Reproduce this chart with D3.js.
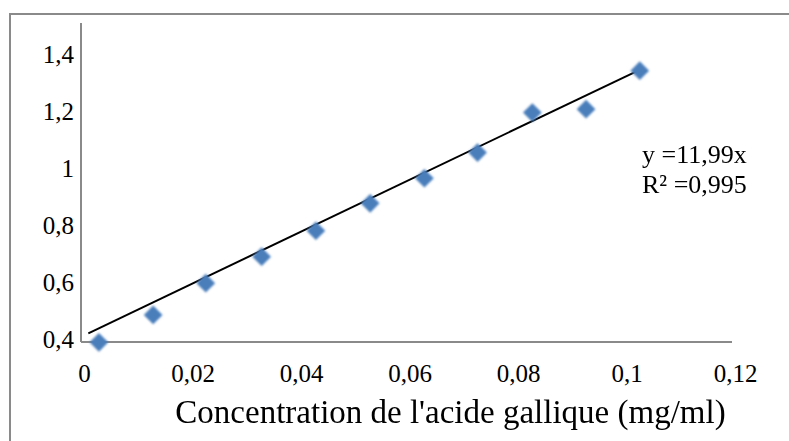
<!DOCTYPE html>
<html>
<head>
<meta charset="utf-8">
<script src="https://cdn.jsdelivr.net/npm/d3@7/dist/d3.min.js"></script>
<style>
  html, body { margin: 0; padding: 0; background: #fff; }
  svg { display: block; }
  text { font-family: "Liberation Serif", "Times New Roman", serif; fill: #000; }
</style>
</head>
<body>
<svg id="chart" width="789" height="441"></svg>
<script>
// ---- data ----
const concentration = [0.0033, 0.0133, 0.0230, 0.0333, 0.0433, 0.0533, 0.0633, 0.0731, 0.0832, 0.0931, 0.1030];
const absorbance    = [0.399, 0.495, 0.606, 0.699, 0.790, 0.886, 0.974, 1.064, 1.204, 1.216, 1.351];
const trendX = [0.00135, 0.1023];
const trendY = [0.4305, 1.348];
const xTicks = [0, 0.02, 0.04, 0.06, 0.08, 0.1, 0.12];
const yTicks = [0.4, 0.6, 0.8, 1.0, 1.2, 1.4];
const xTitle = "Concentration de l'acide gallique (mg/ml)";
const equationLines = ["y =11,99x", "R\u00B2 =0,995"];

const svg = d3.select("#chart");
const fmt = v => String(+v.toFixed(2)).replace(".", ",");

const x = d3.scaleLinear().domain([0, 0.12]).range([81, 732]);
const y = d3.scaleLinear().domain([0.4, 1.4]).range([342, 56.7]);
const yTop = y.invert(23);

// blur filter for markers
const defs = svg.append("defs");
defs.append("filter").attr("id", "soft")
  .attr("x", "-30%").attr("y", "-30%").attr("width", "160%").attr("height", "160%")
  .append("feGaussianBlur").attr("stdDeviation", 0.8);

// outer frame (top & left visible)
svg.append("line").attr("x1", 9).attr("x2", 789).attr("y1", 14).attr("y2", 14)
  .attr("stroke", "#8a8a8a").attr("stroke-width", 2);
svg.append("line").attr("x1", 10).attr("x2", 10).attr("y1", 13).attr("y2", 441)
  .attr("stroke", "#8a8a8a").attr("stroke-width", 2);

// axes
const xAxis = d3.axisBottom(x).tickValues(xTicks).tickSize(0).tickFormat(fmt);
const gx = svg.append("g").attr("transform", `translate(0,${y(0.4)})`).call(xAxis);
gx.select(".domain").attr("stroke", "#8a8a8a").attr("stroke-width", 2).attr("d", `M${x(0)},0H${x(0.12)}`);
gx.selectAll("text").attr("font-size", 25).attr("font-family", "Liberation Serif")
  .attr("fill", "#000").attr("dy", 0).attr("y", 40).attr("x", 3);

const yAxis = d3.axisLeft(y).tickValues(yTicks).tickSize(0).tickFormat(fmt);
const gy = svg.append("g").attr("transform", `translate(${x(0)},0)`).call(yAxis);
gy.select(".domain").attr("stroke", "#8a8a8a").attr("stroke-width", 2)
  .attr("d", `M0,${y(0.4)}V${y(yTop)}`);
gy.selectAll("text").attr("font-size", 25).attr("font-family", "Liberation Serif")
  .attr("fill", "#000").attr("x", -7).attr("dy", "0.22em");

// trendline
svg.append("line")
  .attr("x1", x(trendX[0])).attr("y1", y(trendY[0]))
  .attr("x2", x(trendX[1])).attr("y2", y(trendY[1]))
  .attr("stroke", "#000").attr("stroke-width", 2);

// markers (diamonds)
const diamond = d3.symbol().type(d3.symbolSquare).size(175);
svg.append("g").attr("filter", "url(#soft)")
  .selectAll("path").data(concentration).join("path")
  .attr("d", diamond)
  .attr("transform", (d, i) => `translate(${x(d)},${y(absorbance[i])}) rotate(45)`)
  .attr("fill", "#4a7ebb");

// equation label
svg.append("g").selectAll("text").data(equationLines).join("text")
  .attr("x", 642).attr("y", (d, i) => 163 + i * 30)
  .attr("font-size", 26).text(d => d);

// x title
svg.append("text").attr("x", (173 + 728) / 2).attr("y", 423)
  .attr("text-anchor", "middle").attr("font-size", 33).text(xTitle);
</script>
</body>
</html>
